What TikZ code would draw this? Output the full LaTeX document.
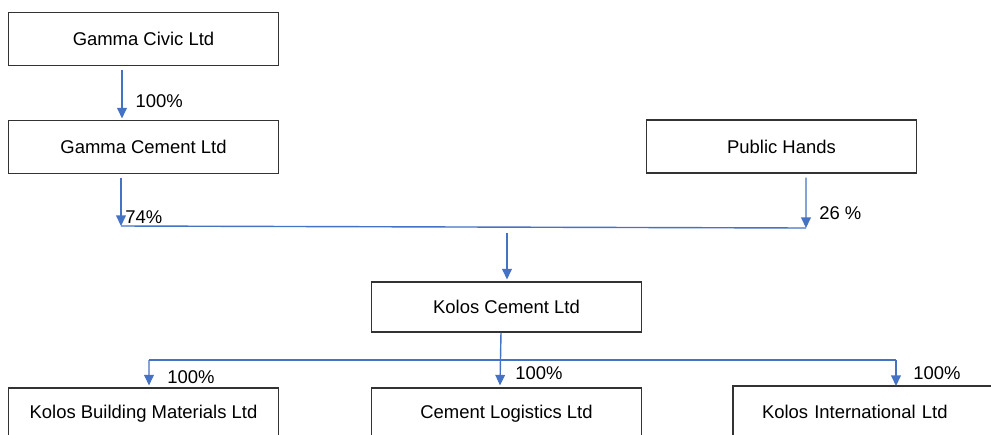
\documentclass[tikz,border=0pt]{standalone}
\usepackage{fontspec}
\setmainfont{Liberation Sans}
\usepackage{tikz}
\usetikzlibrary{arrows.meta}
\usepackage{xcolor}
\definecolor{linkblue}{HTML}{4472C4}

\tikzset{
    firm/.style={draw=black!80, line width=0.6pt, minimum width=5.4cm, minimum height=1.06cm,
        font=\fontsize{10.5}{12}\selectfont},
    link/.style={linkblue, line width=0.8pt},
    linkarr/.style={link, -{Triangle[length=6pt,width=5.5pt]}},
    share/.style={anchor=west, inner sep=0pt, text=black, font=\fontsize{10.5}{12}\selectfont}
}

\begin{document}
\begin{tikzpicture}
    \useasboundingbox (0,0) rectangle (19.82,-8.68);
    % owners
    \node[firm] (civic) at (2.87,-0.78) {Gamma Civic Ltd};
    \node[firm] (gcement) at (2.87,-2.94) {Gamma Cement Ltd};
    \node[firm] (public) at (15.63,-2.93) {Public Hands};
    \node[firm, minimum height=1cm] (kolos) at (10.13,-6.14) {Kolos Cement Ltd};
    % subsidiaries, cut off by the page
    \node[firm, minimum height=1.04cm] (kbm) at (2.87,-8.28) {Kolos Building Materials Ltd};
    \node[firm, minimum height=1.04cm] (logist) at (10.13,-8.28) {Cement Logistics Ltd};
    \node[firm, minimum height=1.04cm, text width=4.6cm, inner xsep=0.58cm, align=left]
        (kint) at (17.54,-8.24) {Kolos International Ltd};

    \coordinate (jleft) at (2.42,-4.52);
    \coordinate (jright) at (16.12,-4.56);
    \coordinate (bleft) at (2.98,-7.20);
    \coordinate (bright) at (17.92,-7.20);

    \draw[linkarr] ([xshift=-0.43cm,yshift=-0.08cm]civic.south) -- ([xshift=-0.43cm,yshift=0.03cm]gcement.north)
        node[share, pos=0.65, xshift=0.26cm] (p1) {100\%};
    \draw[linkarr] ([xshift=-0.45cm,yshift=-0.08cm]gcement.south) -- (jleft);
    \node[share] (p2) at (2.50,-4.34) {74\%};
    \draw[linkarr] ([xshift=0.49cm,yshift=-0.08cm]public.south) -- (jright);
    \node[share] (p3) at (16.38,-4.26) {26 \%};
    \draw[link] (jleft) -- (jright);
    \draw[linkarr] (10.14,-4.66) -- ([xshift=0.01cm,yshift=0.04cm]kolos.north);

    \draw[link] (bleft) -- (bright);
    \draw[linkarr] ([xshift=-0.11cm]kolos.south) -- ([xshift=-0.13cm,yshift=0.04cm]logist.north);
    \draw[linkarr] (bleft) -- ([xshift=0.11cm,yshift=0.04cm]kbm.north);
    \draw[linkarr] (bright) -- (17.92,-7.72);
    \node[share] (p4) at (3.34,-7.54) {100\%};
    \node[share] (p5) at (10.30,-7.46) {100\%};
    \node[share] (p6) at (18.26,-7.46) {100\%};
\end{tikzpicture}
\end{document}
